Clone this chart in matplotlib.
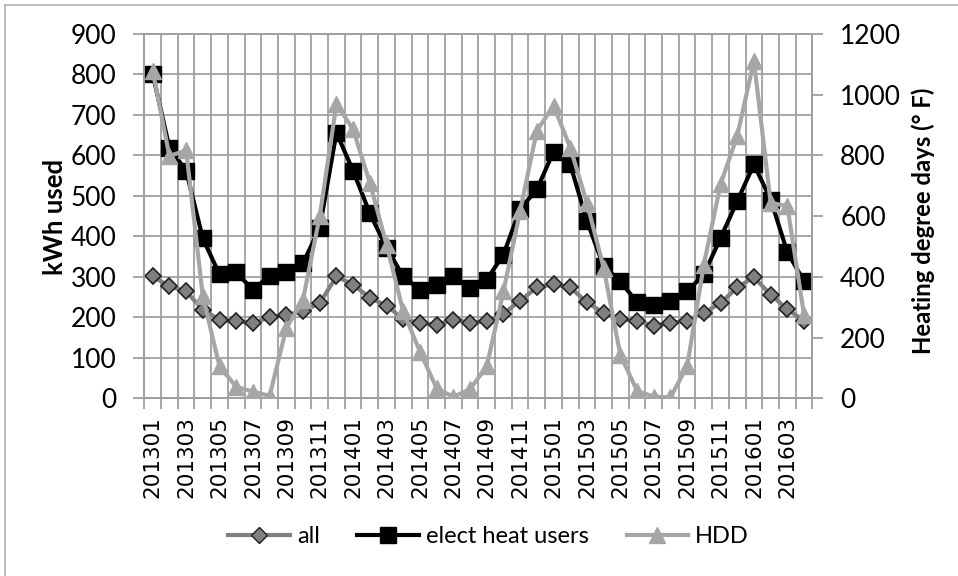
import matplotlib
matplotlib.use("Agg")
import matplotlib.pyplot as plt
from matplotlib.lines import Line2D
import numpy as np

months = [
    "201301", "201302", "201303", "201304", "201305", "201306", "201307", "201308",
    "201309", "201310", "201311", "201312", "201401", "201402", "201403", "201404",
    "201405", "201406", "201407", "201408", "201409", "201410", "201411", "201412",
    "201501", "201502", "201503", "201504", "201505", "201506", "201507", "201508",
    "201509", "201510", "201511", "201512", "201601", "201602", "201603", "201604",
]
all_users = [301, 277, 264, 219, 194, 190, 186, 200, 206, 215, 235, 301, 281, 248,
             229, 196, 186, 182, 194, 187, 190, 209, 241, 274, 282, 274, 237, 211, 195,
             192, 179, 186, 192, 211, 235, 274, 299, 256, 220, 192]
elect_heat = [801, 619, 562, 395, 306, 312, 267, 303, 311, 334, 421, 656, 562, 457,
              372, 301, 268, 281, 301, 273, 293, 355, 468, 516, 609, 578, 438, 326, 289,
              237, 231, 241, 264, 306, 396, 487, 578, 491, 361, 289]
hdd = [1079, 798, 817, 336, 105, 38, 22, 8, 231, 325, 600, 969, 886, 710,
       506, 286, 154, 33, 5, 30, 105, 352, 617, 881, 964, 826, 644, 430, 143,
       25, 5, 3, 105, 440, 705, 864, 1112, 644, 633, 275]

GRID = "#a0a0a0"
FONT = "Lato"

fig = plt.figure(figsize=(9.58, 5.76), dpi=100)
ax = fig.add_axes([0.1507, 0.3085, 0.6973, 0.6325])
x = np.arange(len(months))

ax.plot(x, all_users, color="#808080", lw=3, marker="D", ms=8,
        mfc="#808080", mec="#202020", mew=1.2, zorder=3, label="all")
ax.plot(x, elect_heat, color="black", lw=3, marker="s", ms=11,
        mfc="black", mec="black", zorder=4, label="elect heat users")

ax.set_xlim(-0.5, len(months) - 0.5)
ax.set_ylim(0, 900)
ax.set_yticks(np.arange(0, 901, 100))
ax.set_xticks(x[::2])
ax.set_xticklabels(months[::2], rotation=90, fontsize=15.5, family="DejaVu Sans")
ax.set_xticks(np.arange(-0.5, len(months)), minor=True)
ax.tick_params(axis="x", which="major", length=0, pad=13)
ax.tick_params(axis="x", which="minor", length=8, color=GRID, width=1.3)
ax.tick_params(axis="y", length=8, color=GRID, width=1.3, pad=12, labelsize=19)
for lab in ax.get_yticklabels():
    lab.set_family(FONT)
ax.grid(True, which="minor", axis="x", color=GRID, lw=1.3)
ax.grid(True, which="major", axis="y", color=GRID, lw=1.3)
ax.set_axisbelow(True)
for s in ax.spines.values():
    s.set_color(GRID)
    s.set_linewidth(1.3)

ax2 = ax.twinx()
ax2.plot(x, hdd, color="#a6a6a6", lw=3, marker="^", ms=11,
         mfc="#a6a6a6", mec="#a6a6a6", zorder=5, label="HDD")
ax2.set_ylim(0, 1200)
ax2.set_yticks(np.arange(0, 1201, 200))
ax2.tick_params(axis="y", length=8, color=GRID, width=1.3, pad=12, labelsize=19)
for lab in ax2.get_yticklabels():
    lab.set_family(FONT)
for s in ax2.spines.values():
    s.set_color(GRID)
    s.set_linewidth(1.3)

fig.text(55 / 958, 1 - 217 / 576, "kWh used", rotation=90, ha="center", va="center",
         fontsize=18.5, fontweight="bold", family=FONT)
fig.text(923 / 958, 1 - 221 / 576, "Heating degree days (° F)", rotation=90,
         ha="center", va="center", fontsize=17.2, fontweight="bold", family=FONT)

handles = [
    Line2D([], [], color="#808080", lw=3, marker="D", ms=8, mfc="#808080", mec="#202020"),
    Line2D([], [], color="black", lw=3, marker="s", ms=11),
    Line2D([], [], color="#a6a6a6", lw=3, marker="^", ms=11),
]
fig.legend(handles, ["all", "elect heat users", "HDD"], loc="center",
           bbox_to_anchor=(0.51, 0.068), ncol=3, frameon=False, handlelength=2.6,
           columnspacing=1.6, handletextpad=0.3, prop={"family": FONT, "size": 17})

# outer chart border
fig.add_artist(Line2D([5 / 958, 5 / 958], [0, 1 - 5 / 576], transform=fig.transFigure,
                      color="#b0b0b0", lw=1.2))
fig.add_artist(Line2D([5 / 958, 1], [1 - 5 / 576, 1 - 5 / 576], transform=fig.transFigure,
                      color="#b0b0b0", lw=1.2))

fig.savefig("out.png", dpi=100)
